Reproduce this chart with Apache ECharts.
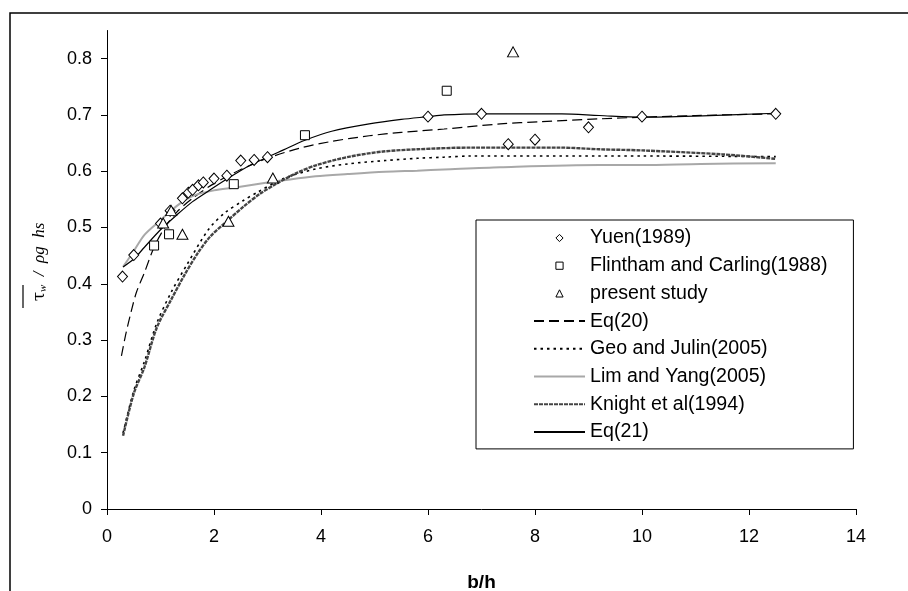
<!DOCTYPE html>
<html>
<head>
<meta charset="utf-8">
<script src="https://cdn.jsdelivr.net/npm/echarts@6/dist/echarts.min.js"></script>
<style>
  html, body { margin: 0; padding: 0; background: #fff; }
  #chart { width: 908px; height: 591px; }
</style>
</head>
<body>
<div id="chart"></div>
<script>
// measured points [b/h, tau]
const yuen = [[0.29, 0.413], [0.5, 0.451], [1.0, 0.507], [1.18, 0.53], [1.41, 0.552], [1.52, 0.562],
  [1.6, 0.567], [1.71, 0.575], [1.8, 0.58], [2.0, 0.587], [2.24, 0.592], [2.5, 0.619], [2.75, 0.62],
  [3.0, 0.625], [6.0, 0.697], [7.0, 0.702], [7.5, 0.648], [8.0, 0.656], [9.0, 0.678], [10.0, 0.697], [12.5, 0.702]];
const flintham = [[0.88, 0.468], [1.16, 0.488], [2.37, 0.577], [3.7, 0.664], [6.35, 0.743]];
const present = [[1.05, 0.508], [1.2, 0.53], [1.41, 0.488], [2.27, 0.511], [3.1, 0.588], [7.59, 0.812]];

// curves
const eq20 = [[0.27, 0.272], [0.35, 0.31], [0.45, 0.35], [0.55, 0.385], [0.7, 0.42], [0.88, 0.465], [1.08, 0.5],
  [1.3, 0.527], [1.6, 0.552], [2.0, 0.578], [2.5, 0.603], [3.0, 0.623], [3.6, 0.641], [4.2, 0.653], [4.9, 0.663],
  [5.5, 0.669], [6.3, 0.675], [7.35, 0.684], [8.1, 0.688], [9.2, 0.693], [10, 0.696], [11, 0.699], [12.5, 0.702]];
const geo = [[0.3, 0.135], [0.5, 0.21], [0.7, 0.262], [0.93, 0.33], [1.2, 0.385], [1.5, 0.435], [1.9, 0.497],
  [2.2, 0.526], [2.55, 0.548], [2.8, 0.562], [3.3, 0.587], [3.9, 0.604], [4.5, 0.613], [5.2, 0.619], [5.8, 0.623],
  [6.3, 0.625], [6.8, 0.627], [9.2, 0.627], [10, 0.627], [12.5, 0.626]];
const lim = [[0.3, 0.43], [0.5, 0.458], [0.7, 0.487], [1.0, 0.513], [1.3, 0.538], [1.6, 0.556], [2.0, 0.566],
  [2.4, 0.571], [3.0, 0.58], [3.3, 0.584], [3.9, 0.591], [4.5, 0.595], [5.2, 0.599], [5.8, 0.601], [6.3, 0.603],
  [7.35, 0.607], [9.2, 0.611], [10, 0.611], [11.1, 0.613], [12.5, 0.614]];
const knight = [[0.3, 0.13], [0.5, 0.205], [0.7, 0.252], [0.93, 0.322], [1.2, 0.372], [1.45, 0.416], [1.7, 0.455],
  [1.93, 0.484], [2.24, 0.511], [2.55, 0.537], [2.86, 0.56], [3.17, 0.578], [3.55, 0.597], [3.92, 0.611],
  [4.54, 0.626], [5.16, 0.635], [5.8, 0.639], [6.8, 0.642], [8.47, 0.642], [9.2, 0.639], [10, 0.637],
  [11.5, 0.63], [12.5, 0.622]];
const eq21 = [[0.3, 0.43], [0.5, 0.444], [0.7, 0.465], [1.0, 0.496], [1.3, 0.522], [1.6, 0.546], [1.93, 0.567],
  [2.24, 0.586], [2.55, 0.604], [2.86, 0.619], [3.3, 0.638], [3.7, 0.655], [4.2, 0.671], [4.9, 0.684],
  [5.5, 0.692], [6.0, 0.697], [6.3, 0.7], [7.0, 0.702], [8.5, 0.702], [9.2, 0.699], [10, 0.696], [11, 0.698], [12.5, 0.703]];

const yTicks = [0, 0.1, 0.2, 0.3, 0.4, 0.5, 0.6, 0.7, 0.8];

const font = 'Liberation Sans, Arial, sans-serif';
const chart = echarts.init(document.getElementById('chart'), null, { renderer: 'canvas' });

// markers drawn as line series with an invisible line so the legend keeps small symbols
const marker = (name, data, symbol, size) => ({
  name, data, type: 'line', symbol, symbolSize: size, showSymbol: true, z: 5,
  lineStyle: { width: 0, opacity: 0 },
  itemStyle: { color: '#fff', borderColor: '#000', borderWidth: 1, opacity: 1 }
});
const curve = (name, data, color, width, type) => ({
  name, data, type: 'line', symbol: 'none', smooth: 0.3, z: 3,
  lineStyle: { color, width, type }, itemStyle: { color }
});

const markerLegend = { itemStyle: { borderWidth: 1, borderColor: '#000', color: '#fff' }, lineStyle: { width: 0, opacity: 0 } };
const lineLegend = { itemStyle: { opacity: 0 } };

chart.setOption({
  animation: false,
  backgroundColor: '#fff',
  textStyle: { fontFamily: font },
  grid: { left: 107, right: 52, top: 30.5, bottom: 82, outerBoundsMode: 'none' },
  xAxis: {
    type: 'value', min: 0, max: 14, interval: 2,
    name: 'b/h', nameLocation: 'middle', nameGap: 64,
    nameTextStyle: { fontFamily: font, fontSize: 19, fontWeight: 'bold', color: '#000' },
    axisLine: { show: true, lineStyle: { color: '#000', width: 1 } },
    axisTick: { show: true, length: 6, lineStyle: { color: '#000' } },
    axisLabel: { fontFamily: font, fontSize: 18, color: '#000', margin: 19 },
    splitLine: { show: false }
  },
  yAxis: {
    type: 'value', min: 0, max: 0.85,
    axisLine: { show: true, lineStyle: { color: '#000', width: 1 } },
    axisTick: { show: true, length: 6, customValues: yTicks, lineStyle: { color: '#000' } },
    axisLabel: { fontFamily: font, fontSize: 18, color: '#000', margin: 15, customValues: yTicks },
    splitLine: { show: false }
  },
  legend: {
    orient: 'vertical', left: 476, top: 220,
    padding: [8, 26, 7, 57],
    borderColor: '#000', borderWidth: 1,
    itemWidth: 51, itemHeight: 9, itemGap: 7.7,
    textStyle: { fontFamily: font, fontSize: 19.6, color: '#000', lineHeight: 19 },
    data: [
      Object.assign({ name: 'Yuen(1989)' }, markerLegend),
      Object.assign({ name: 'Flintham and Carling(1988)' }, markerLegend),
      Object.assign({ name: 'present study' }, markerLegend),
      Object.assign({ name: 'Eq(20)' }, lineLegend),
      Object.assign({ name: 'Geo and Julin(2005)' }, lineLegend),
      Object.assign({ name: 'Lim and Yang(2005)' }, lineLegend),
      Object.assign({ name: 'Knight et al(1994)' }, lineLegend),
      Object.assign({ name: 'Eq(21)' }, lineLegend)
    ]
  },
  graphic: [
    { type: 'rect', shape: { x: 10, y: 13, width: 1000, height: 1000 }, style: { fill: 'none', stroke: '#000', lineWidth: 1.5 }, silent: true },
    {
      type: 'text', x: 40, y: 262, rotation: Math.PI / 2,
      style: {
        text: '{t|τ}{s|w}{n|  /  ρg  hs}', align: 'center', verticalAlign: 'middle', fill: '#000',
        rich: {
          t: { fontFamily: 'DejaVu Serif', fontSize: 17, fill: '#000' },
          s: { fontFamily: 'Liberation Serif', fontStyle: 'italic', fontSize: 11, fill: '#000', padding: [7, 0, 0, 0] },
          n: { fontFamily: 'Liberation Serif', fontStyle: 'italic', fontSize: 17, fill: '#000' }
        }
      }
    },
    { type: 'line', shape: { x1: 23, y1: 285, x2: 23, y2: 308 }, style: { stroke: '#000', lineWidth: 1.2 } }
  ],
  series: [
    marker('Yuen(1989)', yuen, 'diamond', [10, 11]),
    marker('Flintham and Carling(1988)', flintham, 'rect', 9),
    marker('present study', present, 'triangle', [11, 10]),
    curve('Eq(20)', eq20, '#000', 1.2, [10, 5]),
    curve('Geo and Julin(2005)', geo, '#000', 1.6, [2.5, 4]),
    curve('Lim and Yang(2005)', lim, '#a8a8a8', 2, 'solid'),
    curve('Knight et al(1994)', knight, '#444', 2.4, [4, 1]),
    curve('Eq(21)', eq21, '#000', 1.2, 'solid')
  ]
});
</script>
</body>
</html>
